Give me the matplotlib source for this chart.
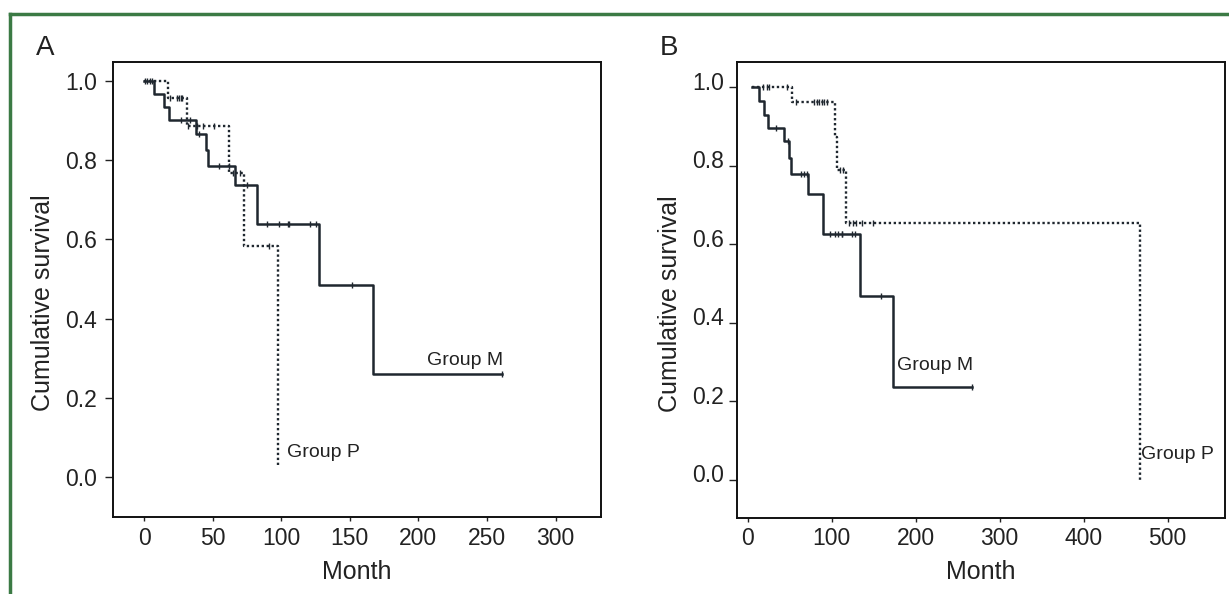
import numpy as np
import matplotlib
matplotlib.use('Agg')
import matplotlib.pyplot as plt
from matplotlib.lines import Line2D
from matplotlib.transforms import ScaledTranslation

plt.rcParams['font.family'] = ['Liberation Sans', 'DejaVu Sans']

# Panel A: Kaplan-Meier steps (time in months, cumulative survival)
a_m_time = [0, 7.5, 14.8, 18.4, 37.9, 44.9, 46.8, 66.3, 82.5, 127.7, 166.9, 261.2]
a_m_surv = [1.0, 0.966, 0.933, 0.900, 0.865, 0.825, 0.785, 0.737, 0.638, 0.486, 0.260, 0.260]
a_m_cens = [0.5, 2.5, 4, 5.5, 26.7, 33.5, 40.3, 54.9, 62.2, 74.8, 89.8, 98.5, 105.1, 106,
            120.9, 125.7, 151.8, 261.2]
a_p_time = [0, 17.2, 31.1, 61.9, 72.8, 97.8]
a_p_surv = [1.0, 0.957, 0.886, 0.767, 0.583, 0.03]
a_p_cens = [18.9, 24, 25.5, 27, 28, 31.8, 38.8, 43.2, 51.0, 64.6, 69.9, 91.2]

# Panel B
b_m_time = [5.5, 13.8, 19.7, 24.5, 43.5, 49.4, 51.4, 72, 89.1, 134.3, 173, 267.3]
b_m_surv = [1.0, 0.965, 0.929, 0.896, 0.862, 0.819, 0.779, 0.728, 0.626, 0.469, 0.238, 0.238]
b_m_cens = [33.6, 47.5, 63, 66.9, 70.1, 97.8, 103.7, 107.7, 111.7, 112.3, 123.6, 127.5,
            158.4, 267.3]
b_p_time = [5.5, 53, 103.7, 106.5, 116.8, 466.5]
b_p_surv = [1.0, 0.962, 0.873, 0.789, 0.655, 0.0]
b_p_cens = [18.6, 22.6, 25.3, 46.3, 57.4, 78.8, 82, 84.7, 87.9, 90.7, 93.9, 109.7, 112.9,
            120.7, 125.5, 129.5, 136.6, 149]

line_col = '#1f272f'
txt_col = '#222222'
dot_style = (0, (1.0, 1.1))


def surv_at(times, surv, t):
    # value of the step function at time t
    idx = np.searchsorted(times, t, side='right') - 1
    return np.array(surv)[np.clip(idx, 0, len(surv) - 1)]


def km_panel(ax, m_t, m_s, m_c, p_t, p_s, p_c):
    ax.step(m_t, m_s, where='post', color=line_col, lw=1.8)
    ax.step(p_t, p_s, where='post', color=line_col, lw=1.7, linestyle=dot_style)
    ax.plot(m_c, surv_at(m_t, m_s, m_c), ls='none', marker='|', ms=5, mew=1.0, color=line_col)
    ax.plot(p_c, surv_at(p_t, p_s, p_c), ls='none', marker='|', ms=5, mew=1.0, color=line_col)
    for s in ax.spines.values():
        s.set_linewidth(1.4)
        s.set_color('#111111')
    ax.set_yticks([0.0, 0.2, 0.4, 0.6, 0.8, 1.0])
    ax.set_yticklabels(['0.0', '0.2', '0.4', '0.6', '0.8', '1.0'])
    ax.tick_params(axis='x', labelsize=16.5, length=3, width=1, pad=4, colors=txt_col)
    ax.set_xlabel('Month', fontsize=18, color=txt_col)
    ax.set_ylabel('Cumulative survival', fontsize=18, color=txt_col)


fig = plt.figure(figsize=(12.29, 5.94), dpi=100)

axA = fig.add_axes([0.0922, 0.1291, 0.3966, 0.767])
km_panel(axA, a_m_time, a_m_surv, a_m_cens, a_p_time, a_p_surv, a_p_cens)
axA.set_xlim(-22.4, 332.9)
axA.set_ylim(-0.101, 1.048)
axA.set_xticks([0, 50, 100, 150, 200, 250, 300])
axA.tick_params(axis='y', labelsize=16.5, length=6, width=1, pad=6, colors=txt_col)
axA.yaxis.set_label_coords(-0.145, 0.47)
axA.xaxis.set_label_coords(0.5, -0.12)
axA.get_xaxis().label.set_va('center')
axA.get_yaxis().label.set_va('center')
axA.text(261.5, 0.272, 'Group M', ha='right', va='bottom', fontsize=14, color=txt_col)
axA.text(104.5, 0.062, 'Group P', ha='left', va='center', fontsize=14, color=txt_col)

axB = fig.add_axes([0.5994, 0.1285, 0.397, 0.7676])
km_panel(axB, b_m_time, b_m_surv, b_m_cens, b_p_time, b_p_surv, b_p_cens)
axB.set_xlim(-13.1, 567.7)
axB.set_ylim(-0.096, 1.065)
axB.set_xticks([0, 100, 200, 300, 400, 500])
axB.tick_params(axis='y', labelsize=16.5, length=6, width=1, pad=3, colors=txt_col)
shift = ScaledTranslation(0, 6.5 / 100, fig.dpi_scale_trans)
for lab in axB.get_yticklabels():
    lab.set_transform(lab.get_transform() + shift)
axB.yaxis.set_label_coords(-0.137, 0.47)
axB.xaxis.set_label_coords(0.5, -0.12)
axB.get_xaxis().label.set_va('center')
axB.get_yaxis().label.set_va('center')
axB.text(177.5, 0.292, 'Group M', ha='left', va='center', fontsize=14, color=txt_col)
axB.text(468, 0.064, 'Group P', ha='left', va='center', fontsize=14, color=txt_col)

# panel letters
fig.text(36 / 1229, 1 - 48 / 594, 'A', fontsize=20, va='center', ha='left', color=txt_col)
fig.text(660 / 1229, 1 - 48 / 594, 'B', fontsize=20, va='center', ha='left', color=txt_col)

# green frame (top and left edges)
green = '#3b7a44'
fig.add_artist(Line2D([10 / 1229, 1.0], [1 - 14 / 594, 1 - 14 / 594], color=green, lw=2.5,
                      transform=fig.transFigure))
fig.add_artist(Line2D([10 / 1229, 10 / 1229], [0.0, 1 - 14 / 594], color=green, lw=2.5,
                      transform=fig.transFigure))

fig.savefig('out.png', dpi=100)
